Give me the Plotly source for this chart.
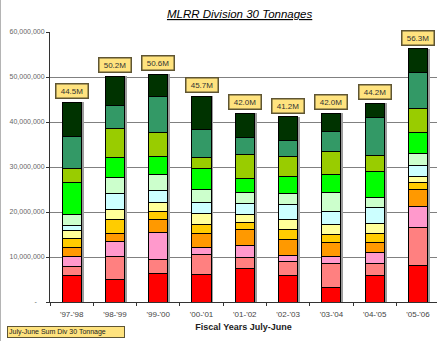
import plotly.graph_objects as go

categories = ["'97-'98", "'98-'99", "'99-'00", "'00-'01", "'01-'02",
              "'02-'03", "'03-'04", "'04-'05", "'05-'06"]

months = ["Jul", "Aug", "Sep", "Oct", "Nov", "Dec",
          "Jan", "Feb", "Mar", "Apr", "May", "Jun"]

# monthly tonnages in millions, bottom (Jul) to top (Jun)
jul = [5.9, 5.1, 6.4, 6.2, 7.55, 5.8, 3.2, 6.0, 8.1]
aug = [2.0, 5.1, 3.1, 4.4, 2.45, 3.25, 5.3, 2.45, 8.5]
sep = [2.15, 3.3, 6.0, 1.6, 2.5, 1.25, 1.7, 2.45, 4.6]
oct_ = [2.15, 1.8, 2.9, 3.1, 3.7, 3.7, 3.0, 2.3, 3.7]
nov = [1.9, 3.1, 1.8, 1.85, 1.55, 2.1, 1.85, 2.0, 1.7]
dec = [1.9, 2.1, 1.9, 2.45, 1.8, 2.3, 2.15, 2.2, 1.4]
jan = [1.1, 3.6, 2.7, 2.5, 2.3, 3.25, 2.95, 3.6, 2.3]
feb = [2.4, 3.6, 3.6, 3.0, 2.4, 2.45, 4.1, 2.3, 2.75]
mar = [7.0, 4.5, 3.9, 4.6, 3.2, 3.7, 4.0, 5.6, 4.65]
apr = [3.1, 6.3, 5.4, 2.5, 5.25, 4.5, 5.2, 3.7, 5.35]
may = [7.1, 5.1, 7.9, 6.2, 3.8, 3.7, 4.35, 8.4, 7.9]
jun = [7.7, 6.6, 5.0, 7.3, 5.5, 5.2, 4.2, 3.2, 5.35]

totals = [44.5, 50.2, 50.6, 45.7, 42.0, 41.2, 42.0, 44.2, 56.3]

series = [jul, aug, sep, oct_, nov, dec, jan, feb, mar, apr, may, jun]
colors = ["#FF0000", "#FF8080", "#FF99CC", "#FF9900", "#FFCC00", "#FFFF99",
          "#CCFFFF", "#CCFFCC", "#00FF00", "#99CC00", "#339966", "#003300"]

ytickvals = [0, 10e6, 20e6, 30e6, 40e6, 50e6, 60e6]
yticktext = ["-\u00a0\u00a0\u00a0\u00a0", "10,000,000", "20,000,000", "30,000,000",
             "40,000,000", "50,000,000", "60,000,000"]

FONT = "Liberation Sans, Arial"

fig = go.Figure()

# drop shadow behind each bar (primary axes, drawn first)
stack_sums = [sum(s[i] for s in series) * 1e6 for i in range(len(categories))]
fig.add_trace(go.Bar(
    x=categories, y=stack_sums, width=0.44, offset=-0.22 + 0.055,
    marker=dict(color="#9c9c9c", line=dict(width=0)),
    showlegend=False, hoverinfo="skip", xaxis="x", yaxis="y",
))

for name, vals, col in zip(months, series, colors):
    fig.add_trace(go.Bar(
        x=categories, y=[v * 1e6 for v in vals], name=name,
        marker=dict(color=col, line=dict(color="#000000", width=1)),
        width=0.44, showlegend=False, xaxis="x2", yaxis="y2",
    ))

for cat, tot in zip(categories, totals):
    fig.add_annotation(
        x=cat, y=tot * 1e6, xref="x", yref="y",
        text=f"{tot:.1f}M", showarrow=False,
        yanchor="bottom", yshift=3,
        font=dict(family=FONT, size=8, color="#333333"),
        bgcolor="#FFE37F", bordercolor="#5f5533", borderwidth=1.5,
        borderpad=2, width=27,
    )

fig.add_annotation(
    x=-0.111, y=-0.089, xref="paper", yref="paper",
    xanchor="left", yanchor="top",
    text="July-June Sum Div 30 Tonnage", showarrow=False,
    font=dict(family=FONT, size=7, color="#222222"),
    bgcolor="#FFE37F", bordercolor="#5f5533", borderwidth=1,
    borderpad=1, width=114, align="left",
)

# chart border on the left
fig.add_shape(type="line", xref="paper", yref="paper",
              x0=-0.1295, x1=-0.1295, y0=-0.2, y1=1.2,
              line=dict(color="#888888", width=1.5))

fig.update_layout(
    width=437, height=341,
    margin=dict(l=50, r=0, t=32, b=39),
    barmode="stack",
    plot_bgcolor="#FFFFFF", paper_bgcolor="#FFFFFF",
    title=dict(text="<i><u>MLRR Division 30 Tonnages</u></i>",
               x=0.49, xref="paper", y=1 - 14 / 341, yanchor="middle",
               font=dict(family=FONT, size=11.5, color="#000000")),
    xaxis=dict(
        range=[-0.5, 8.44], tickson="boundaries", ticks="outside", ticklen=3,
        tickcolor="#333333", showline=True, linecolor="#333333", linewidth=1,
        showgrid=False, ticklabelstandoff=4,
        tickfont=dict(family=FONT, size=8, color="#444444"),
        title=dict(text="<b>Fiscal Years July-June</b>", standoff=6,
                   font=dict(family=FONT, size=9, color="#222222")),
    ),
    yaxis=dict(
        range=[0, 60e6], tickvals=ytickvals, ticktext=yticktext,
        ticks="outside", ticklen=3, tickcolor="#333333",
        showline=True, linecolor="#333333", linewidth=1,
        showgrid=True, gridcolor="#808080", gridwidth=1,
        tickfont=dict(family=FONT, size=7, color="#666666"),
        zeroline=False,
    ),
    xaxis2=dict(overlaying="x", matches="x", visible=False),
    yaxis2=dict(overlaying="y", matches="y", visible=False),
)

fig.write_html("out.html")
